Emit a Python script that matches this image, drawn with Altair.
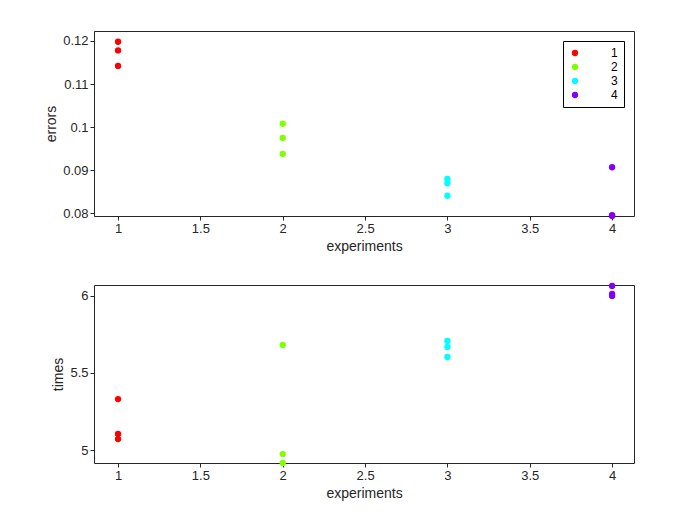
import altair as alt
import pandas as pd

experiments = [1, 1, 1, 2, 2, 2, 3, 3, 3, 4, 4, 4]
groups = ["1", "1", "1", "2", "2", "2", "3", "3", "3", "4", "4", "4"]
errors = [0.1198, 0.1178, 0.1142, 0.1008, 0.0975, 0.0938,
          0.0880, 0.0870, 0.0841, 0.0907, 0.0794, 0.0796]
times = [5.331, 5.104, 5.071, 5.682, 4.974, 4.916,
         5.708, 5.669, 5.604, 6.065, 6.013, 6.000]

COLORS = ["#ff0000", "#80ff00", "#00ffff", "#8000ff"]
FONT = "Liberation Sans"

df = pd.DataFrame({"experiments": experiments, "group": groups,
                   "errors": errors, "times": times})

x = alt.X("experiments:Q", title="experiments",
          scale=alt.Scale(domain=[0.854, 4.133], nice=False, zero=False),
          axis=alt.Axis(values=[1, 1.5, 2, 2.5, 3, 3.5, 4], labelExpr="'' + datum.value"))

top = (
    alt.Chart(df)
    .mark_circle(size=40, opacity=1)
    .encode(
        x=x,
        y=alt.Y("errors:Q", title="errors",
                scale=alt.Scale(domain=[0.0794, 0.1223], nice=False, zero=False),
                axis=alt.Axis(values=[0.08, 0.09, 0.1, 0.11, 0.12], labelExpr="'' + datum.value")),
        color=alt.Color("group:N", title=None,
                        scale=alt.Scale(domain=["1", "2", "3", "4"], range=COLORS),
                        legend=alt.Legend(orient="top-right", strokeColor="black",
                                          fillColor="white", padding=6, rowPadding=2,
                                          symbolSize=40, labelFontSize=12,
                                          labelFont=FONT, offset=10, labelOffset=30)),
    )
    .properties(width=540, height=185)
)

bottom = (
    alt.Chart(df)
    .mark_circle(size=40, opacity=1)
    .encode(
        x=x,
        y=alt.Y("times:Q", title="times",
                scale=alt.Scale(domain=[4.916, 6.071], nice=False, zero=False),
                axis=alt.Axis(values=[5, 5.5, 6], labelExpr="'' + datum.value")),
        color=alt.Color("group:N", scale=alt.Scale(domain=["1", "2", "3", "4"], range=COLORS),
                        legend=None),
    )
    .properties(width=540, height=178)
)

chart = (
    alt.vconcat(top, bottom, spacing=28)
    .properties(padding={"left": 36, "top": 22, "right": 10, "bottom": 5}, background="white")
    .configure_axis(grid=False, domain=False, tickColor="#262626", tickSize=4,
                    labelColor="#262626", titleColor="#262626",
                    labelFont=FONT, titleFont=FONT, labelFontSize=13,
                    titleFontSize=14, titleFontWeight="normal")
    .configure_view(stroke="#262626", strokeWidth=1)
)

chart.save("out.html", embed_options={"renderer": "svg", "actions": False})
